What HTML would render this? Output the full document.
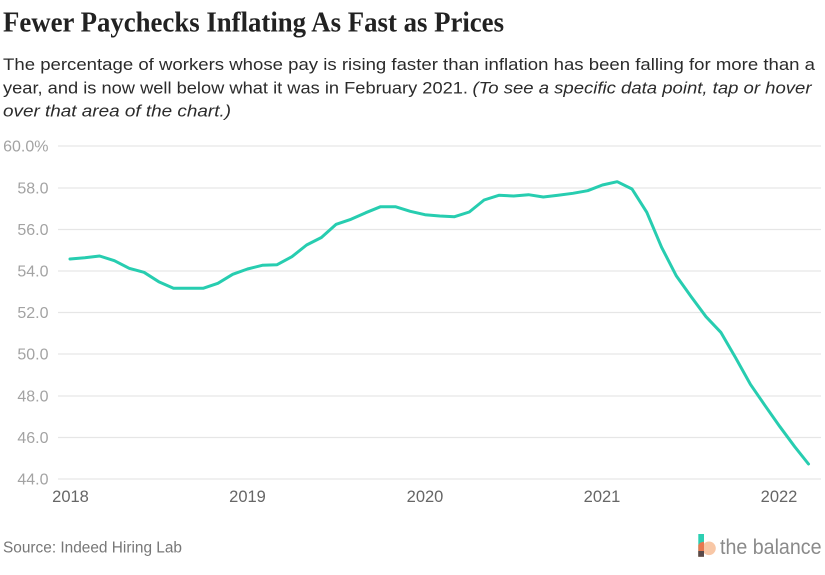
<!DOCTYPE html>
<html>
<head>
<meta charset="utf-8">
<style>
  html, body { margin: 0; padding: 0; background: #ffffff; }
  svg { display: block; }
</style>
</head>
<body>
<svg width="825" height="575" viewBox="0 0 825 575" xmlns="http://www.w3.org/2000/svg">
  <rect x="0" y="0" width="825" height="575" fill="#ffffff"/>

  <!-- Title -->
  <text x="3" y="31.5" font-family="'Liberation Serif', serif" font-weight="bold" font-size="29" fill="#222222" textLength="501" lengthAdjust="spacingAndGlyphs">Fewer Paychecks Inflating As Fast as Prices</text>

  <!-- Subtitle -->
  <g font-family="'Liberation Sans', sans-serif" font-size="17" fill="#2b2b2b">
    <text x="3" y="70" textLength="812" lengthAdjust="spacingAndGlyphs">The percentage of workers whose pay is rising faster than inflation has been falling for more than a</text>
    <text x="3" y="93.3" textLength="465" lengthAdjust="spacingAndGlyphs">year, and is now well below what it was in February 2021.</text>
    <text x="472.5" y="93.3" font-style="italic" textLength="339" lengthAdjust="spacingAndGlyphs">(To see a specific data point, tap or hover</text>
    <text x="3" y="116.7" font-style="italic" textLength="228" lengthAdjust="spacingAndGlyphs">over that area of the chart.)</text>
  </g>

  <!-- Gridlines -->
  <g stroke="#e6e6e6" stroke-width="1.2">
    <line x1="58" y1="146" x2="821" y2="146"/>
    <line x1="58" y1="188" x2="821" y2="188"/>
    <line x1="58" y1="229.5" x2="821" y2="229.5"/>
    <line x1="58" y1="271" x2="821" y2="271"/>
    <line x1="58" y1="312.5" x2="821" y2="312.5"/>
    <line x1="58" y1="354" x2="821" y2="354"/>
    <line x1="58" y1="396" x2="821" y2="396"/>
    <line x1="58" y1="437.5" x2="821" y2="437.5"/>
    <line x1="58" y1="479" x2="821" y2="479"/>
  </g>

  <!-- Y labels -->
  <g font-family="'Liberation Sans', sans-serif" font-size="16" fill="#a3a3a3" text-anchor="end">
    <text x="48.5" y="151.7">60.0%</text>
    <text x="48.5" y="193.5">58.0</text>
    <text x="48.5" y="235">56.0</text>
    <text x="48.5" y="276.5">54.0</text>
    <text x="48.5" y="318">52.0</text>
    <text x="48.5" y="359.5">50.0</text>
    <text x="48.5" y="401.5">48.0</text>
    <text x="48.5" y="443">46.0</text>
    <text x="48.5" y="484.5">44.0</text>
  </g>

  <!-- X labels -->
  <g font-family="'Liberation Sans', sans-serif" font-size="16.5" fill="#666666" text-anchor="middle">
    <text x="70.5" y="502">2018</text>
    <text x="247.5" y="502">2019</text>
    <text x="425" y="502">2020</text>
    <text x="602" y="502">2021</text>
    <text x="779" y="502">2022</text>
  </g>

  <!-- Data line -->
  <polyline fill="none" stroke="#27cdb0" stroke-width="3" stroke-linejoin="round" stroke-linecap="round"
    points="70,259 84.8,257.7 99.6,256 114.4,260.7 129.2,268.3 144,272.3 158.7,281.7 173.5,288.3 188.3,288.3 203.1,288.3 217.9,283.3 232.7,274.3 247.5,269 262.3,265.3 277.1,264.7 291.9,256.7 306.6,245 321.4,237.5 336.2,224.3 351,219.3 365.8,212.7 380.6,206.7 395.4,206.7 410.2,211.3 425,214.7 439.8,216 454.5,216.7 469.3,212 484.1,200 498.9,195.3 513.7,196 528.5,194.7 543.3,197 558.1,195.3 572.9,193.3 587.7,190.7 602.4,185 617.2,181.7 632,189 646.8,212.3 661.6,247.3 676.4,276 691.2,296.7 706,316.7 720.8,332.3 735.6,357.7 750.4,384.3 765.1,405.7 779.9,426.7 794.7,446.7 808.5,464"/>

  <!-- Source -->
  <text x="3" y="552.7" font-family="'Liberation Sans', sans-serif" font-size="15.5" fill="#777777" textLength="179" lengthAdjust="spacingAndGlyphs">Source: Indeed Hiring Lab</text>

  <!-- Logo -->
  <g>
    <rect x="698.3" y="534" width="5.7" height="22.7" fill="#2ccfb2"/>
    <circle cx="709" cy="548.3" r="6.8" fill="#f8c7a6"/>
    <path d="M698.3,545 A6.8,6.8 0 0 1 704,541.8 L704,556.7 L698.3,556.7 Z" fill="#e8774f"/>
    <rect x="698.3" y="551" width="5.7" height="5.7" fill="#5a4a4a"/>
    <text x="720" y="554" font-family="'Liberation Sans', sans-serif" font-size="21" fill="#8a8a8a" textLength="101.5" lengthAdjust="spacingAndGlyphs">the balance</text>
  </g>
</svg>
</body>
</html>
